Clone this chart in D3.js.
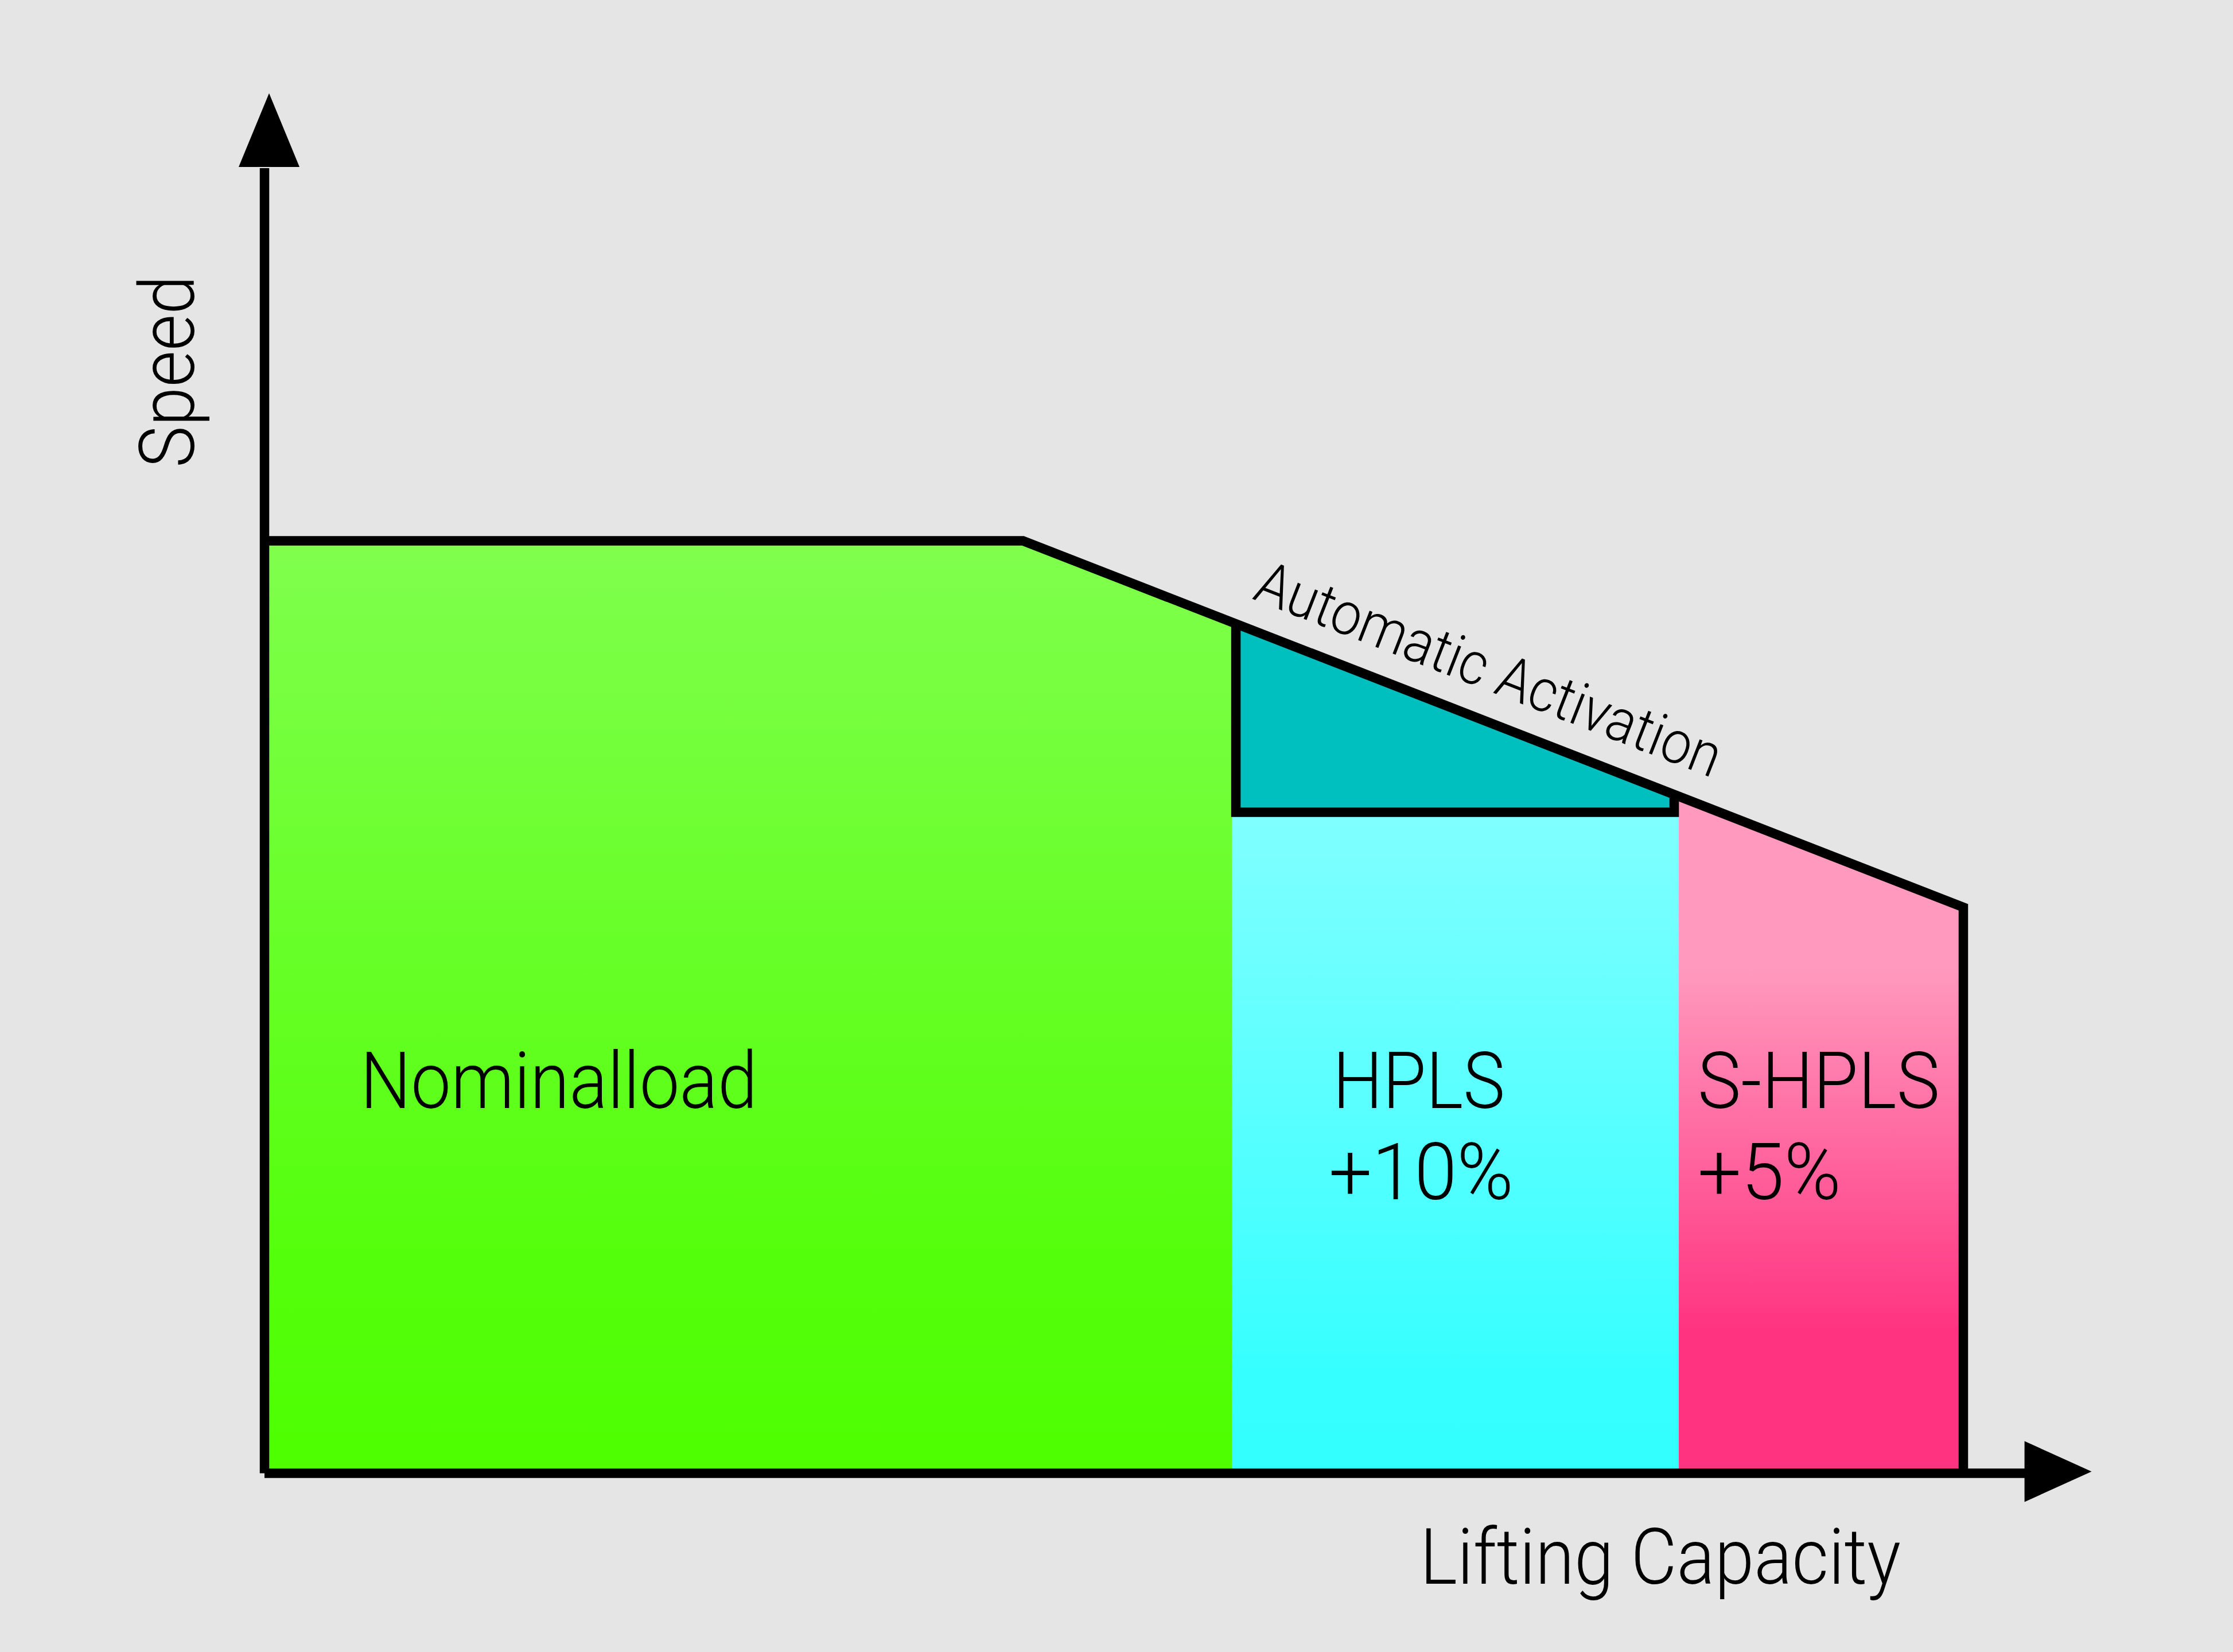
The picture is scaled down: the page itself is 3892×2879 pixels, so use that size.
<!DOCTYPE html>
<html>
<head>
<meta charset="utf-8">
<script src="https://cdn.jsdelivr.net/npm/d3@7"></script>
<style>
  html, body { margin: 0; padding: 0; background: #e5e5e5; }
  svg { display: block; }
  text { font-family: Roboto, "Liberation Sans", sans-serif; font-weight: 300; fill: #000; }
</style>
</head>
<body>
<script>
// ---------- DATA ----------
// Speed profile (lifting capacity %, speed %)
const profileCapacity = [0, 44.65, 100];
const profileSpeed = [100, 100, 60.7];
// Zones along lifting capacity
const zoneNames = ["Nominalload", "HPLS", "S-HPLS"];
const zoneStart = [0, 56.94, 83.25];
const zoneEnd = [56.94, 83.25, 100];
const zoneLabelLines = [["Nominalload"], ["HPLS", "+10%"], ["S-HPLS", "+5%"]];
// Automatic activation block
const activationCapacity = [57.18, 82.98];
const activationSpeed = 70.9;
const activationLabel = "Automatic Activation";
// Axes
const axisTitles = ["Lifting Capacity", "Speed"];
const xAxisMax = 103.6, xArrowTip = 107.55;
const yAxisMax = 140.1, yArrowTip = 148.0;

// ---------- LAYOUT ----------
const W = 3892, H = 2879;
const x = d3.scaleLinear().domain([0, 100]).range([461, 3422]);
const y = d3.scaleLinear().domain([0, 100]).range([2567.5, 942.5]);
const SW = 16.5;

const svg = d3.select("body").append("svg").attr("width", W).attr("height", H);
svg.append("rect").attr("width", W).attr("height", H).attr("fill", "#e5e5e5");

const defs = svg.append("defs");
function grad(id, stops, y1, y2) {
  const g = defs.append("linearGradient").attr("id", id)
    .attr("gradientUnits", "userSpaceOnUse")
    .attr("x1", 0).attr("x2", 0).attr("y1", y1).attr("y2", y2);
  stops.forEach(s => g.append("stop").attr("offset", s[0]).attr("stop-color", s[1]));
}
grad("gGreen", [[0, "#80ff4d"], [0.75, "#55ff0d"], [1, "#4dff00"]], 942, 2567);
grad("gCyan", [[0, "#80ffff"], [0.85, "#36ffff"], [1, "#33ffff"]], 1420, 2567);
grad("gPink", [[0, "#ff99bd"], [0.1, "#ff99bd"], [0.75, "#ff3380"], [1, "#ff3380"]], 1590, 2567);
const fills = ["url(#gGreen)", "url(#gCyan)", "url(#gPink)"];

function speedAt(c) {
  return d3.scaleLinear().domain(profileCapacity).range(profileSpeed).clamp(true)(c);
}

const area = d3.area().x(d => x(d[0])).y0(y(0)).y1(d => y(d[1]));

zoneNames.forEach((name, i) => {
  const pts = [[zoneStart[i], speedAt(zoneStart[i])]];
  profileCapacity.forEach(c => { if (c > zoneStart[i] && c < zoneEnd[i]) pts.push([c, speedAt(c)]); });
  pts.push([zoneEnd[i], speedAt(zoneEnd[i])]);
  svg.append("path").attr("d", area(pts)).attr("fill", fills[i]);
});

// Automatic activation block
const act = [
  [activationCapacity[0], speedAt(activationCapacity[0])],
  [activationCapacity[0], activationSpeed],
  [activationCapacity[1], activationSpeed],
  [activationCapacity[1], speedAt(activationCapacity[1])]
];
const line = d3.line().x(d => x(d[0])).y(d => y(d[1]));
svg.append("path").attr("d", line(act) + "Z").attr("fill", "#00bfbf").attr("stroke", "none");
svg.append("path").attr("d", line(act)).attr("fill", "none").attr("stroke", "#000")
  .attr("stroke-width", SW).attr("stroke-linejoin", "miter");

// Profile outline
const outline = profileCapacity.map((c, i) => [c, profileSpeed[i]]);
outline.push([100, 0]);
svg.append("path").attr("d", line(outline)).attr("fill", "none").attr("stroke", "#000")
  .attr("stroke-width", SW).attr("stroke-linejoin", "miter");

// Axes
svg.append("line").attr("x1", x(0)).attr("x2", x(0)).attr("y1", y(0)).attr("y2", y(yAxisMax) + 2)
  .attr("stroke", "#000").attr("stroke-width", SW);
svg.append("line").attr("x1", x(0)).attr("x2", x(xAxisMax) + 2).attr("y1", y(0)).attr("y2", y(0))
  .attr("stroke", "#000").attr("stroke-width", SW);
// arrowheads
const ax = x(0) + 8;
svg.append("path").attr("d", `M${ax},${y(yArrowTip)} L${ax + 53},${y(yAxisMax)} L${ax - 53},${y(yAxisMax)} Z`).attr("fill", "#000");
const ay = y(0) - 3;
svg.append("path").attr("d", `M${x(xArrowTip)},${ay} L${x(xAxisMax)},${ay - 53} L${x(xAxisMax)},${ay + 53} Z`).attr("fill", "#000");

// Axis titles
svg.append("text").attr("x", 2475).attr("y", 2760).attr("font-size", 135)
  .attr("textLength", 838).attr("lengthAdjust", "spacingAndGlyphs").text(axisTitles[0]);
svg.append("text").attr("transform", "translate(338,815) rotate(-90)").attr("font-size", 133)
  .attr("textLength", 335).attr("lengthAdjust", "spacingAndGlyphs").text(axisTitles[1]);

// Zone labels
const labelPos = [[628, [692]], [2323, [300, 322]], [2959, [422, 250]]];
const labelXOff = [[0], [0, -7], [0, 0]];
zoneLabelLines.forEach((lines, i) => {
  lines.forEach((t, j) => {
    svg.append("text").attr("x", labelPos[i][0] + labelXOff[i][j]).attr("y", 1931 + j * 159)
      .attr("font-size", 137).attr("textLength", labelPos[i][1][j])
      .attr("lengthAdjust", "spacingAndGlyphs").text(t);
  });
});

// Automatic activation label along slope
const slopeAngle = Math.atan2(y(profileSpeed[2]) - y(profileSpeed[1]), x(profileCapacity[2]) - x(profileCapacity[1])) * 180 / Math.PI;
svg.append("text").attr("transform", `translate(2181,1043) rotate(${slopeAngle})`)
  .attr("font-size", 104).attr("textLength", 862).attr("lengthAdjust", "spacingAndGlyphs")
  .text(activationLabel);
</script>
</body>
</html>
